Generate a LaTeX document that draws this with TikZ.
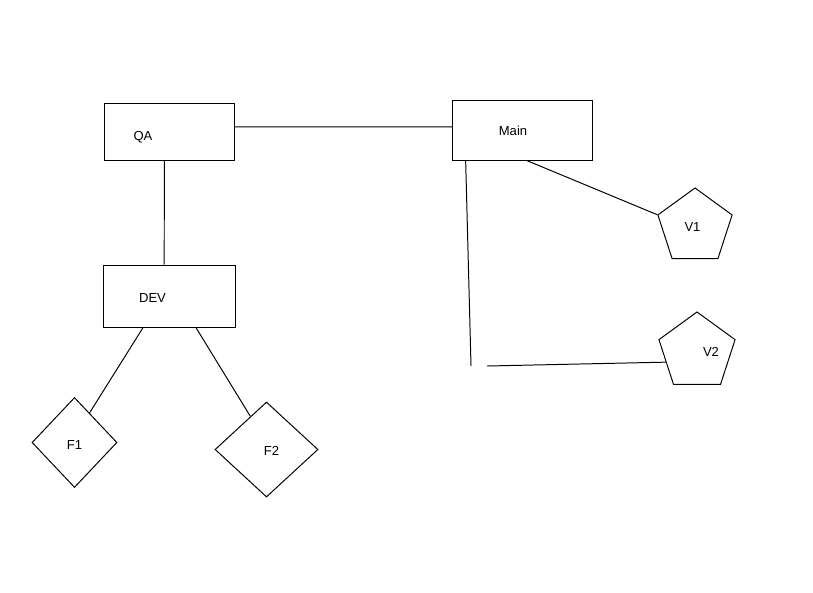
\documentclass[tikz,border=0pt]{standalone}
\usepackage{fontspec}
\setmainfont{Liberation Sans}
\usetikzlibrary{calc,shapes.geometric}
\tikzset{
	box/.style={draw, rectangle, line width=0.7pt, inner sep=0pt},
	kite/.style={draw, diamond, line width=0.7pt, inner sep=0pt},
	penta/.style={draw, regular polygon, regular polygon sides=5, line width=0.7pt, inner sep=0pt},
	tag/.style={inner sep=0pt, font=\fontsize{9.3}{11}\selectfont},
	wire/.style={line width=0.7pt},
}

\begin{document}
\begin{tikzpicture}[x=0.025cm, y=-0.025cm]
			%%%%% START %%%%%
			\useasboundingbox (0, 0) rectangle (813, 592);
			
			\node[box, minimum width=3.225cm, minimum height=1.425cm] (qa) at (169.5, 131.5) {};
			\node[box, minimum width=3.475cm, minimum height=1.5cm] (main) at (522.5, 130) {};
			\node[box, minimum width=3.275cm, minimum height=1.55cm] (dev) at (169.5, 296) {};
			
			\node[kite, minimum width=2.125cm, minimum height=2.25cm] (f1) at (74.5, 442.5) {};
			\node[kite, minimum width=2.575cm, minimum height=2.375cm] (f2) at (266.5, 449.5) {};
			
			\node[penta, minimum size=1.95cm] (v1) at (695, 227) {};
			\node[penta, minimum size=2.0cm] (v2) at (697, 352) {};
			
			\node[tag] (qa text) at (143, 137) {QA};
			\node[tag] (main text) at (513, 130.5) {Main};
			\node[tag] (dev text) at (152.5, 297.5) {DEV};
			\node[tag] (f1 text) at (74.5, 444.5) {F1};
			\node[tag] (f2 text) at (271.5, 450.5) {F2};
			\node[tag] (v1 text) at (692.5, 227) {V1};
			\node[tag] (v2 text) at (711, 351.7) {V2};
			
			\coordinate (gap top) at (471, 366);
			\coordinate (gap end) at (487, 366);
			
			\draw[wire] ($(qa.north east)!.42!(qa.south east)$) -- ($(main.north west)!.45!(main.south west)$);
			\draw[wire] ($(qa.south west)!.46!(qa.south east)$) -- ($(dev.north west)!.46!(dev.north east)$);
			
			\draw[wire] ($(dev.south west)!.30!(dev.south east)$) -- ($(f1.north)!.35!(f1.east)$);
			\draw[wire] ($(dev.south west)!.70!(dev.south east)$) -- ($(f2.north)!.31!(f2.west)$);
			
			\draw[wire] ($(main.south west)!.53!(main.south east)$) -- (v1.corner 2);
			\draw[wire] ($(main.south west)!.094!(main.south east)$) -- (gap top);
			\draw[wire] (gap end) -- ($(v2.corner 2)!.5!(v2.corner 3)$);
			
			%%%%% END %%%%%
		\end{tikzpicture}
\end{document}
